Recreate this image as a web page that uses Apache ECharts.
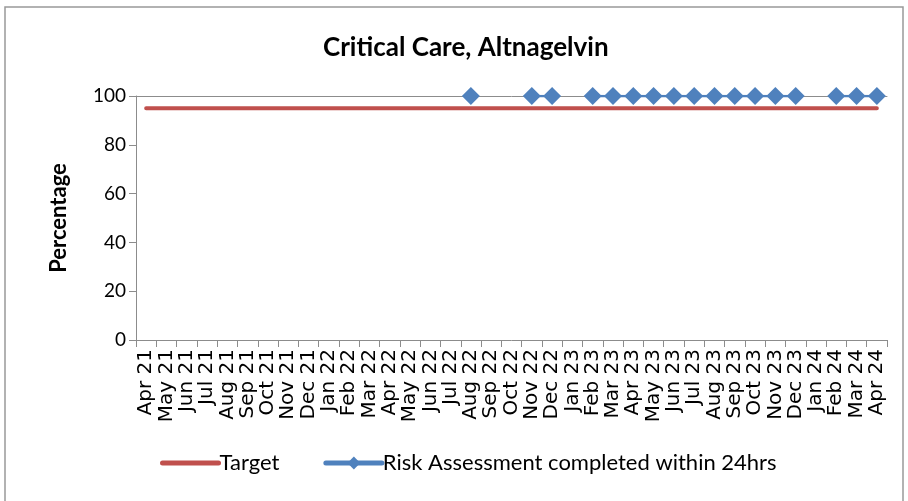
<!DOCTYPE html>
<html>
<head>
<meta charset="utf-8">
<script src="https://cdn.jsdelivr.net/npm/echarts@6/dist/echarts.min.js"></script>
<style>
  html, body { margin: 0; padding: 0; background: #fff; }
  #chart { width: 908px; height: 501px; }
</style>
</head>
<body>
<div id="chart"></div>
<script>
const months = [
  'Apr 21', 'May 21', 'Jun 21', 'Jul 21', 'Aug 21', 'Sep 21', 'Oct 21', 'Nov 21', 'Dec 21',
  'Jan 22', 'Feb 22', 'Mar 22', 'Apr 22', 'May 22', 'Jun 22', 'Jul 22', 'Aug 22', 'Sep 22',
  'Oct 22', 'Nov 22', 'Dec 22', 'Jan 23', 'Feb 23', 'Mar 23', 'Apr 23', 'May 23', 'Jun 23',
  'Jul 23', 'Aug 23', 'Sep 23', 'Oct 23', 'Nov 23', 'Dec 23', 'Jan 24', 'Feb 24', 'Mar 24', 'Apr 24'
];
const target = [
  95, 95, 95, 95, 95, 95, 95, 95, 95,
  95, 95, 95, 95, 95, 95, 95, 95, 95,
  95, 95, 95, 95, 95, 95, 95, 95, 95,
  95, 95, 95, 95, 95, 95, 95, 95, 95, 95
];
const riskAssessment = [
  null, null, null, null, null, null, null, null, null,
  null, null, null, null, null, null, null, 100, null,
  null, 100, 100, null, 100, 100, 100, 100, 100,
  100, 100, 100, 100, 100, 100, null, 100, 100, 100
];
const yTicks = [0, 20, 40, 60, 80, 100];

const textFont = 'Lato, Noto Sans, sans-serif';

const chart = echarts.init(document.getElementById('chart'));

const option = {
  animation: false,
  title: {
    text: 'Critical Care, Altnagelvin',
    left: 318,
    top: 30,
    textStyle: {
      fontFamily: textFont,
      fontSize: 26,
      fontWeight: 'bold',
      color: '#000'
    }
  },
  graphic: [{
    type: 'rect',
    shape: { x: 5, y: 7, width: 898, height: 600 },
    style: { fill: 'none', stroke: '#999', lineWidth: 1.5 },
    silent: true
  }],
  legend: {
    bottom: 22,
    left: 155,
    itemWidth: 56,
    itemHeight: 16,
    itemGap: 44,
    textStyle: {
      fontFamily: textFont,
      fontSize: 22,
      color: '#000',
      padding: [0, 0, 0, -4]
    },
    data: [
      { name: 'Target', itemStyle: { opacity: 0 }, lineStyle: { width: 5, cap: 'round' } },
      { name: 'Risk Assessment completed within 24hrs', lineStyle: { width: 5, cap: 'round' } }
    ]
  },
  grid: {
    left: 136,
    right: 21,
    top: 96,
    bottom: 161
  },
  xAxis: [{
    type: 'category',
    data: months,
    boundaryGap: true,
    axisLine: { lineStyle: { color: '#8c8c8c', width: 1 } },
    axisTick: { show: true, length: 7, lineStyle: { color: '#8c8c8c' } },
    axisLabel: {
      interval: 0,
      rotate: 90,
      margin: 9,
      fontFamily: 'DejaVu Sans, sans-serif',
      fontSize: 20,
      color: '#000'
    }
  }, {
    type: 'category',
    data: months,
    position: 'top',
    axisLine: { lineStyle: { color: '#8c8c8c', width: 1 } },
    axisTick: { show: false },
    axisLabel: { show: false }
  }],
  yAxis: {
    type: 'value',
    min: 0,
    max: yTicks[yTicks.length - 1],
    interval: 20,
    name: 'Percentage',
    nameLocation: 'middle',
    nameGap: 66,
    nameTextStyle: {
      fontFamily: textFont,
      fontSize: 22,
      fontWeight: 'bold',
      color: '#000'
    },
    axisLine: { show: true, lineStyle: { color: '#8c8c8c', width: 1 } },
    axisTick: { show: true, length: 7, lineStyle: { color: '#8c8c8c' } },
    splitLine: { show: false },
    axisLabel: {
      margin: 10,
      fontFamily: textFont,
      fontSize: 19,
      color: '#000'
    }
  },
  series: [
    {
      name: 'Target',
      type: 'line',
      data: target,
      symbol: 'none',
      lineStyle: { color: '#C0504D', width: 4, cap: 'round' },
      itemStyle: { color: '#C0504D' },
      z: 2
    },
    {
      name: 'Risk Assessment completed within 24hrs',
      type: 'line',
      data: riskAssessment,
      connectNulls: false,
      symbol: 'diamond',
      symbolSize: 18,
      showAllSymbol: true,
      lineStyle: { color: '#4F81BD', width: 2.5 },
      itemStyle: { color: '#4F81BD' },
      z: 3
    }
  ]
};

chart.setOption(option);
</script>
</body>
</html>
